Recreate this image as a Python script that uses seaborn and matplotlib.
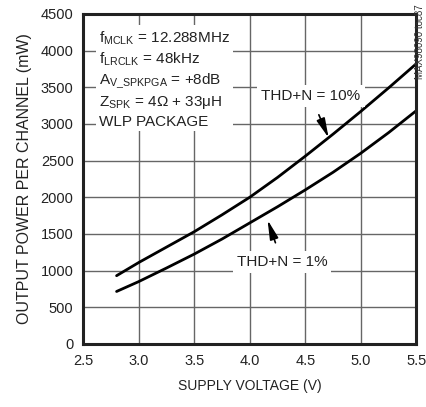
import matplotlib
matplotlib.use("Agg")
import matplotlib.pyplot as plt
import seaborn as sns
import pandas as pd

# supply voltage (V) and output power per channel (mW)
volts = [2.8, 3.0, 3.25, 3.5, 3.75, 4.0, 4.25, 4.5, 4.75, 5.0, 5.25, 5.5]
thd10 = [930, 1110, 1320, 1530, 1760, 2000, 2270, 2560, 2860, 3170, 3490, 3820]
thd1 = [715, 850, 1035, 1225, 1430, 1650, 1870, 2100, 2340, 2600, 2880, 3180]

x_ticks = [2.5, 3.0, 3.5, 4.0, 4.5, 5.0, 5.5]
y_ticks = [0, 500, 1000, 1500, 2000, 2500, 3000, 3500, 4000, 4500]

df = pd.concat([
    pd.DataFrame({"volts": volts, "power": thd10, "curve": "THD+N = 10%"}),
    pd.DataFrame({"volts": volts, "power": thd1, "curve": "THD+N = 1%"}),
])

sns.set_theme(style="whitegrid")
fam = ["Liberation Sans", "DejaVu Sans"]
plt.rcParams["font.family"] = fam
plt.rcParams["mathtext.fontset"] = "custom"
plt.rcParams["mathtext.rm"] = "Liberation Sans"
plt.rcParams["mathtext.it"] = "Liberation Sans"

ink = "#222222"
fs = 10.5

fig = plt.figure(figsize=(4.27, 4.07), dpi=100)
ax = fig.add_axes([0.195, 0.155, 0.78, 0.811])

sns.lineplot(data=df, x="volts", y="power", units="curve", estimator=None,
             color="black", lw=2, ax=ax, legend=False)

ax.set_xlim(2.5, 5.5)
ax.set_ylim(0, 4500)
ax.set_xticks(x_ticks)
ax.set_xticklabels([f"{v:.1f}" for v in x_ticks])
ax.set_yticks(y_ticks)
ax.tick_params(length=0, labelsize=fs, labelcolor=ink, pad=7)
ax.xaxis.grid(True, color="#666666", lw=1)
ax.yaxis.grid(True, color="#666666", lw=1)
ax.set_axisbelow(True)
for s in ax.spines.values():
    s.set_color(ink)
    s.set_linewidth(2.2)

ax.set_xlabel("SUPPLY VOLTAGE (V)", fontsize=10, color=ink, labelpad=8)
ax.set_ylabel("OUTPUT POWER PER CHANNEL (mW)", fontsize=11.5, color=ink, labelpad=6)

# condition block, white background hides the grid
info = ("$\\mathrm{f_{MCLK}}$ = 12.288MHz\n"
        "$\\mathrm{f_{LRCLK}}$ = 48kHz\n"
        "$\\mathrm{A_{V\\_SPKPGA}}$ = +8dB\n"
        "$\\mathrm{Z_{SPK}}$ = 4Ω + 33μH\n"
        "WLP PACKAGE")
ax.text(2.64, 4290, info, fontsize=11, color=ink, va="top", ha="left",
        linespacing=1.3,
        bbox=dict(facecolor="white", edgecolor="none", pad=2))

box = dict(facecolor="white", edgecolor="none", pad=3)
head = "-|>,head_length=0.9,head_width=0.2"
ax.annotate("THD+N = 10%", xy=(4.71, 2810), xytext=(4.55, 3380),
            fontsize=11, color=ink, ha="center", va="center", bbox=box,
            arrowprops=dict(arrowstyle=head, color="black", lw=1.2,
                            mutation_scale=13, shrinkA=6, shrinkB=0))
ax.annotate("THD+N = 1%", xy=(4.16, 1690), xytext=(4.29, 1120),
            fontsize=11, color=ink, ha="center", va="center", bbox=box,
            arrowprops=dict(arrowstyle=head, color="black", lw=1.2,
                            mutation_scale=13, shrinkA=6, shrinkB=0))

fig.text(0.995, 0.99, "MAX98090 toc87", rotation=90, fontsize=7,
         color="#333333", ha="right", va="top")

fig.savefig("out.png", dpi=100)
